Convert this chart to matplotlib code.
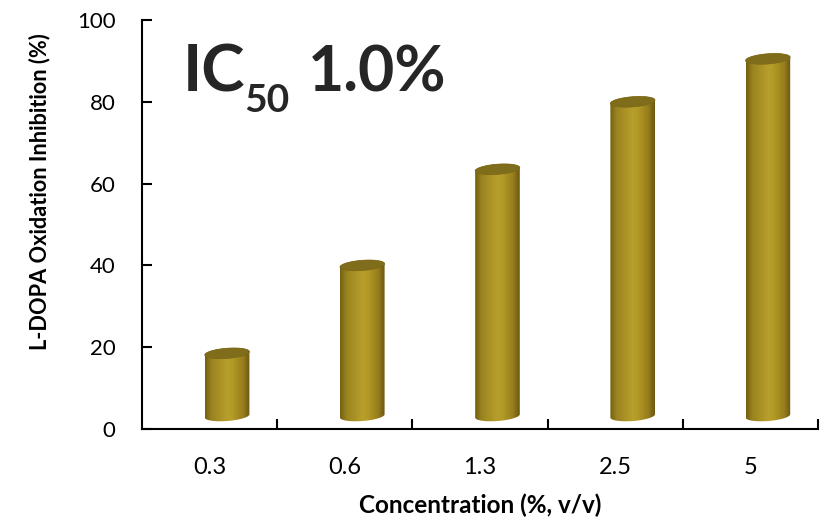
import numpy as np
import matplotlib
matplotlib.use("Agg")
import matplotlib.pyplot as plt
from matplotlib.patches import Polygon
from matplotlib.colors import LinearSegmentedColormap

plt.rcParams['font.family'] = ['Lato', 'DejaVu Sans']

concentrations = ['0.3', '0.6', '1.3', '2.5', '5']
inhibition = [18.5, 40, 63.5, 80, 90.5]
y_ticks = [0, 20, 40, 60, 80, 100]

gold = LinearSegmentedColormap.from_list('gold', [
    (0.0, '#74600f'), (0.15, '#9a8420'), (0.5, '#b89e2a'),
    (0.62, '#b39926'), (0.85, '#977d1d'), (1.0, '#6a560e')])
grad = np.linspace(0, 1, 256).reshape(1, -1)


def cylinder(ax, xc, top, base=3.2, a=0.165, b=1.25, k=0.4):
    t_low = np.linspace(np.pi, 2 * np.pi, 80)
    t_up = np.linspace(0, np.pi, 80)
    bx = xc + a * np.cos(t_low)
    by = base + b * np.sin(t_low) + k * np.cos(t_low)
    tx = xc + a * np.cos(t_up)
    ty = top + b * np.sin(t_up) + k * np.cos(t_up)
    body = Polygon(np.column_stack([np.r_[bx, tx], np.r_[by, ty]]),
                   closed=True, facecolor='none', edgecolor='none')
    ax.add_patch(body)
    im = ax.imshow(grad, cmap=gold, aspect='auto', zorder=2,
                   extent=[xc - a, xc + a, base - b - k - 1, top + b + k + 1])
    im.set_clip_path(body)
    t = np.linspace(0, 2 * np.pi, 160)
    cap = Polygon(np.column_stack([xc + a * np.cos(t),
                                   top + b * np.sin(t) + k * np.cos(t)]),
                  closed=True, facecolor='#806d1c', edgecolor='#7a6718',
                  linewidth=0.5, zorder=3)
    ax.add_patch(cap)


fig = plt.figure(figsize=(8.25, 5.21), dpi=100)
ax = fig.add_axes([0.172, 0.1766, 0.8194, 0.785])

x = np.arange(len(concentrations))
for xi, val in zip(x, inhibition):
    cylinder(ax, xi + 0.13, val)

ax.set_xlim(-0.5, len(concentrations) - 0.5)
ax.set_ylim(0, 100)

for s in ['top', 'right']:
    ax.spines[s].set_visible(False)
for s in ['left', 'bottom']:
    ax.spines[s].set_linewidth(1.5)

ax.set_yticks(y_ticks)
ax.set_xticks(x)
ax.set_xticklabels(concentrations)
ax.set_xticks(np.arange(len(concentrations)) + 0.5, minor=True)
ax.tick_params(axis='y', direction='in', length=7, width=1.5,
               labelsize=16, pad=19)
ax.tick_params(axis='x', which='major', length=0, labelsize=17, pad=20)
ax.tick_params(axis='x', which='minor', direction='in', length=7, width=1.5)

ax.set_xlabel('Concentration (%, v/v)', fontsize=17.5, fontweight='bold',
              labelpad=11)
ax.set_ylabel('L-DOPA Oxidation Inhibition (%)', fontsize=15.7,
              fontweight='bold')
ax.yaxis.set_label_coords(-0.135, 0.58)

dark = '#262626'
ax.text(0.061, 0.824, 'IC', transform=ax.transAxes, fontsize=47,
        fontweight='bold', color=dark, va='baseline', ha='left')
ax.text(0.152, 0.775, '50', transform=ax.transAxes, fontsize=28,
        fontweight='bold', color=dark, va='baseline', ha='left')
ax.text(0.246, 0.824, '1.0%', transform=ax.transAxes, fontsize=45,
        fontweight='bold', color=dark, va='baseline', ha='left')

fig.savefig('out.png', dpi=100)
